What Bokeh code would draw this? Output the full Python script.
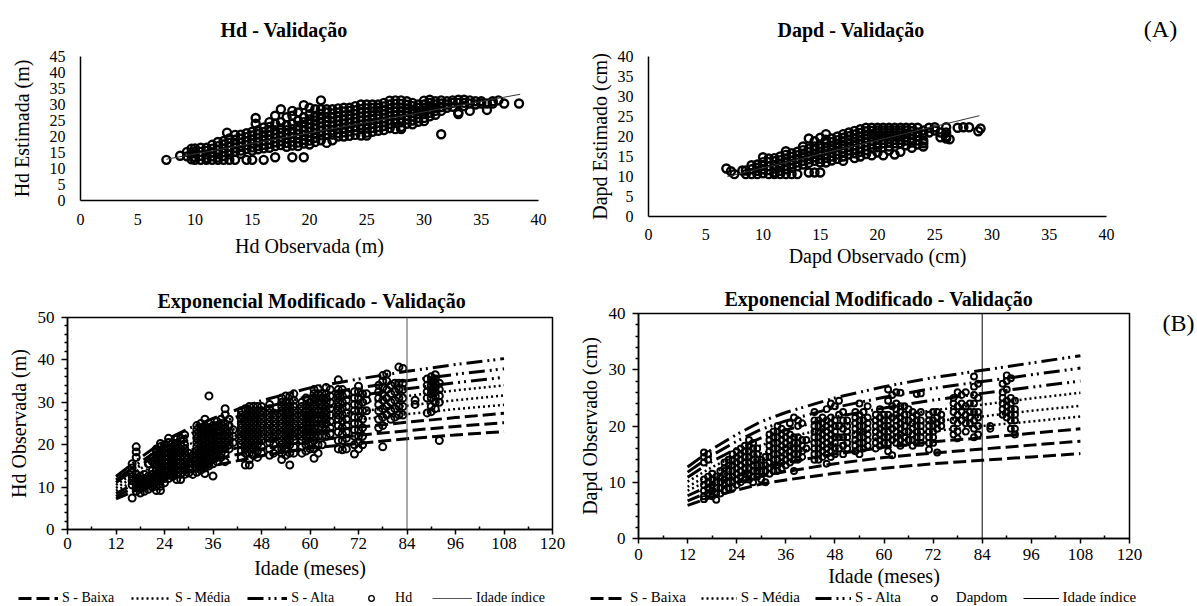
from bokeh.plotting import figure
from bokeh.layouts import column, row
from bokeh.models import Range1d, FixedTicker, Legend, LegendItem, Label
from bokeh.embed import file_html
from bokeh.resources import INLINE

FONT = "Liberation Serif"

# ---------------- (A) Hd validation: observed vs estimated ----------------
hd_obs_cols = [7.5, 8.7, 9.3, 9.7, 10.0, 10.5, 11.0, 11.5, 12.0, 12.5, 12.8, 13.0, 13.5, 14.0, 14.5,
               15.0, 15.3, 15.5, 16.0, 16.5, 17.0, 17.5, 18.0, 18.5, 19.0, 19.5, 20.0, 20.5, 21.0,
               21.5, 22.0, 22.5, 23.0, 23.5, 24.0, 24.5, 25.0, 25.5, 26.0, 26.5, 27.0, 27.5, 28.0,
               28.5, 29.0, 29.5, 30.0, 30.5, 31.0, 31.5, 32.0, 32.5, 33.0, 33.5, 34.0, 34.5, 35.0,
               35.5, 36.0, 36.5, 37.0, 38.3]
hd_est_vals = [
    [12.7], [14.0], [15.2, 13.8], [16.2, 14.7, 12.9], [16.3, 15.3, 13.6, 12.7],
    [16.5, 15.2, 14.0, 12.7], [16.5, 15.5, 14.4, 13.3, 12.7], [17.4, 16.2, 15.0, 13.8, 12.7],
    [18.3, 17.0, 15.8, 14.6, 13.4, 12.7], [18.6, 17.5, 16.3, 15.1, 13.9, 12.7], [21.2],
    [19.4, 18.0, 16.8, 15.6, 14.4, 12.7], [20.5, 19.0, 17.6, 16.4, 15.2, 12.7],
    [20.6, 19.3, 18.0, 16.8, 15.6, 14.6], [21.0, 19.8, 18.5, 17.3, 16.1, 12.7],
    [21.5, 20.3, 19.0, 17.8, 16.6, 15.6, 12.7], [25.8, 24.0],
    [22.0, 20.8, 19.5, 18.2, 17.0, 16.0], [22.8, 21.4, 20.0, 18.7, 17.4, 16.3, 12.7],
    [24.5, 23.0, 21.6, 20.3, 19.0, 17.7, 16.5], [26.5, 24.0, 22.0, 20.8, 19.5, 18.2, 17.0, 13.5],
    [28.5, 24.5, 22.5, 21.2, 19.9, 18.6, 17.3], [26.0, 23.5, 22.0, 20.7, 19.4, 18.0, 16.8],
    [28.0, 26.5, 24.0, 22.3, 21.0, 19.7, 18.4, 17.2, 13.5],
    [27.5, 25.0, 23.3, 22.0, 20.7, 19.4, 18.1, 17.0],
    [29.8, 26.0, 24.5, 23.0, 21.7, 20.4, 19.0, 17.8, 13.5],
    [29.0, 27.0, 25.3, 24.0, 22.7, 21.4, 20.0, 18.7, 17.5],
    [28.5, 26.5, 25.0, 23.6, 22.3, 21.0, 19.6, 18.3],
    [31.3, 28.5, 27.0, 25.6, 24.3, 23.0, 21.7, 20.4, 18.8],
    [28.5, 27.5, 26.0, 24.7, 23.4, 22.0, 20.7, 18.0],
    [28.5, 27.2, 25.9, 24.5, 23.2, 21.9, 20.6, 18.8],
    [28.8, 27.5, 26.2, 24.9, 23.6, 22.3, 21.0, 20.0],
    [29.0, 27.8, 26.5, 25.2, 23.9, 22.6, 21.3, 20.0],
    [29.0, 28.0, 26.8, 25.5, 24.2, 22.9, 21.6, 20.2],
    [29.5, 28.2, 27.0, 25.8, 24.5, 23.2, 21.9, 20.5],
    [30.0, 28.6, 27.4, 26.2, 24.9, 23.6, 22.3, 20.3],
    [30.0, 28.8, 27.6, 26.4, 25.1, 23.8, 22.5, 21.2, 20.3],
    [30.0, 28.9, 27.8, 26.6, 25.3, 24.0, 22.7, 21.5],
    [30.0, 29.0, 28.0, 26.8, 25.6, 24.3, 23.0, 21.8],
    [30.5, 29.4, 28.2, 27.0, 25.8, 24.6, 23.3, 22.0],
    [31.2, 30.0, 28.8, 27.6, 26.4, 25.2, 24.0, 22.6],
    [31.3, 30.2, 29.0, 27.8, 26.6, 25.4, 24.2, 22.3],
    [31.3, 30.2, 29.0, 27.9, 26.8, 25.6, 24.4, 23.0, 22.3],
    [31.0, 29.9, 28.8, 27.7, 26.5, 25.3, 24.0],
    [30.5, 29.5, 28.4, 27.3, 26.2, 25.0, 23.8],
    [30.0, 29.0, 28.0, 27.0, 25.8, 24.6],
    [31.2, 30.0, 29.0, 28.0, 27.0, 25.8, 24.8],
    [31.5, 30.5, 29.5, 28.5, 27.4, 26.3],
    [31.0, 30.0, 29.0, 28.0, 26.8],
    [31.3, 30.3, 29.2, 28.0, 20.7],
    [31.0, 30.0, 29.0], [31.3, 30.5, 29.3], [31.5, 30.5, 27.5, 27.0], [31.5, 30.5, 29.5],
    [31.3, 30.3, 28.0], [31.0, 30.0], [31.0, 30.3], [28.3, 30.3], [30.3, 31.0], [31.3],
    [30.3], [30.3]]
hd_fit_x = [7.5, 38.4]
hd_fit_y = [12.9, 33.2]

# ---------------- (A) Dapd validation ----------------
dap_obs_cols = [6.8, 7.2, 7.5, 8.2, 8.5, 9.0, 9.5, 10.0, 10.5, 11.0, 11.5, 12.0, 12.5, 13.0, 13.5,
                14.0, 14.5, 15.0, 15.5, 16.0, 16.5, 17.0, 17.5, 18.0, 18.5, 19.0, 19.5, 20.0, 20.5,
                21.0, 21.5, 22.0, 22.5, 23.0, 23.5, 24.0, 24.5, 25.0, 25.5, 26.0, 26.3, 27.0, 27.5,
                28.0, 28.8, 29.0]
dap_est_vals = [
    [12.0], [11.3], [10.6], [11.5], [11.5, 10.6], [12.8, 11.8, 10.6], [13.0, 12.2, 11.4, 10.6],
    [14.8, 13.6, 12.7, 11.8, 10.8], [14.5, 13.6, 12.6, 11.6, 10.6],
    [14.6, 13.8, 12.9, 12.0, 11.0, 10.6], [15.0, 14.1, 13.2, 12.3, 11.4, 10.6],
    [16.3, 15.4, 14.5, 13.6, 12.7, 11.8, 10.6], [15.8, 14.9, 14.0, 13.1, 12.2, 10.6],
    [16.2, 15.3, 14.4, 13.5, 12.6, 10.6], [17.5, 16.6, 15.7, 14.8, 13.9, 13.0],
    [19.5, 17.0, 16.1, 15.2, 14.3, 13.4, 11.0], [18.8, 17.5, 16.6, 15.7, 14.8, 13.9, 11.0],
    [19.7, 18.0, 17.1, 16.2, 15.3, 14.4, 13.5, 11.0],
    [20.6, 19.2, 18.3, 17.4, 16.5, 15.6, 14.7, 13.5],
    [19.5, 18.6, 17.7, 16.8, 15.9, 15.0, 14.0], [20.0, 19.1, 18.2, 17.3, 16.4, 15.5, 14.4],
    [20.6, 19.7, 18.8, 17.9, 17.0, 16.1, 15.0, 13.9], [21.0, 20.1, 19.2, 18.3, 17.4, 16.5, 15.5],
    [21.4, 20.5, 19.6, 18.7, 17.8, 16.9, 15.8, 14.6],
    [21.8, 20.9, 20.0, 19.1, 18.2, 17.2, 16.2, 15.0],
    [22.2, 21.3, 20.4, 19.5, 18.6, 17.6, 16.6, 15.6],
    [22.2, 21.4, 20.6, 19.8, 18.9, 18.0, 17.0, 15.3],
    [22.2, 21.5, 20.8, 20.0, 19.2, 18.3, 17.3, 16.0],
    [22.2, 21.5, 20.8, 20.0, 19.2, 18.3, 15.3],
    [22.2, 21.5, 20.8, 20.1, 19.3, 18.5, 17.5, 16.5],
    [22.2, 21.5, 20.8, 20.0, 19.2, 18.3, 15.5],
    [22.2, 21.5, 20.8, 20.0, 19.2, 18.3, 16.2],
    [22.2, 21.5, 20.7, 19.9, 19.0, 17.8], [22.2, 21.3, 20.5, 19.5, 18.5, 17.2],
    [22.2, 21.0, 20.0, 19.0, 18.0], [21.5, 20.5, 19.0, 18.3, 17.5], [22.2, 21.0], [22.3, 21.5],
    [19.8, 21.0], [22.3, 20.0, 19.5, 21.0], [19.3], [22.2], [22.3], [22.3], [21.3], [22.0]]
dap_fit_x = [6.9, 28.9]
dap_fit_y = [10.0, 25.2]

# ---------------- (B) Hd observed by age ----------------
hd_age_cols = [16, 17, 18, 19, 20, 21, 22, 23, 24, 25, 26, 27, 28, 29, 30, 31, 32, 33, 34, 35, 36,
               37, 38, 39, 40, 41, 43, 44, 45, 46, 47, 48, 50, 51, 53, 54, 55, 56, 58, 59, 60, 61,
               62, 63, 64, 65, 67, 68, 69, 71, 72, 73, 74, 77, 78, 79, 80, 81, 82, 83, 86, 89, 90,
               91, 92]
hd_age_vals = [
    [7.4, 10.5, 11.5, 12.5, 13.5, 14.5, 15.5], [9.0, 10.0, 11.0, 12.0, 13.0, 17.0, 18.3, 19.5],
    [8.6, 9.6, 10.6, 11.6, 12.6], [9.0, 10.0, 11.0, 12.0, 13.0], [9.5, 10.5, 11.5, 12.5, 15.5],
    [10.0, 11.0, 12.0, 13.0, 14.0, 16.0, 17.0],
    [9.2, 10.2, 11.2, 12.2, 13.2, 14.2, 15.2, 16.2, 17.2, 18.2, 19.0],
    [9.2, 10.2, 11.5, 12.5, 13.5, 14.5, 15.5, 16.5, 17.5, 18.5, 19.5, 20.3],
    [11.0, 12.0, 13.0, 14.0, 15.0, 16.0, 17.0, 18.0, 19.0, 20.0],
    [12.0, 13.0, 14.0, 15.0, 16.0, 17.0, 18.0, 19.0, 20.5, 21.5],
    [12.5, 13.5, 14.5, 15.5, 16.5, 17.5, 18.5, 19.5, 20.5],
    [11.8, 13.0, 14.0, 15.0, 16.0, 17.0, 18.0, 19.0, 20.0, 21.3],
    [11.8, 13.0, 14.0, 15.0, 16.0, 17.0, 18.0, 19.0, 20.0, 21.5],
    [13.0, 14.0, 15.0, 16.0, 17.0, 18.0, 19.0, 20.0, 22.3],
    [13.3, 14.5, 16.0, 17.0, 18.0], [13.0, 14.5, 15.5, 16.5, 17.5],
    [13.5, 14.5, 15.5, 16.5, 17.5, 18.5, 19.5, 20.5, 21.5, 22.5, 23.5, 24.5],
    [14.0, 15.0, 16.0, 17.0, 18.0, 19.0, 20.0, 21.0, 22.0, 23.0, 24.0, 25.0],
    [13.2, 14.5, 15.5, 16.5, 17.5, 18.5, 19.5, 20.5, 21.5, 22.5, 23.5, 24.5, 26.0],
    [15.0, 16.0, 17.0, 18.0, 19.0, 20.0, 21.0, 22.0, 23.0, 24.0, 25.0, 31.5],
    [12.6, 15.5, 16.5, 17.5, 18.5, 19.5, 20.5, 21.5, 22.5, 23.5, 24.5],
    [16.0, 17.0, 18.0, 19.0, 20.0, 21.0, 22.0, 23.0, 24.5, 25.5],
    [17.0, 18.0, 19.0, 20.0, 21.0, 22.0, 23.0, 24.0, 25.0, 26.0],
    [16.0, 18.0, 19.0, 20.0, 21.0, 22.0, 23.0, 24.0, 25.0, 27.0, 28.5],
    [19.0, 20.0, 21.0, 22.0, 23.0, 24.5, 26.0], [20.5, 22.0, 23.5],
    [17.0, 18.5, 20.0, 21.0, 22.0, 23.0, 24.0, 25.0, 26.0, 27.0, 28.0],
    [15.2, 18.0, 19.0, 20.0, 21.0, 22.0, 23.0, 24.0, 25.0, 26.0, 27.0, 28.5],
    [15.2, 16.5, 18.0, 19.0, 20.0, 21.0, 22.0, 23.0, 24.0, 25.0, 26.0, 27.0, 28.0, 29.0],
    [17.5, 19.0, 20.0, 21.0, 22.0, 23.0, 24.0, 25.0, 26.0, 27.0, 28.0, 29.0],
    [17.0, 18.5, 20.0, 21.0, 22.0, 23.0, 24.0, 25.0, 26.0, 27.0, 28.0, 29.0],
    [18.0, 19.5, 21.0, 22.0, 23.0, 24.0, 25.0, 26.0, 27.0, 28.0, 29.0],
    [17.5, 19.0, 20.5, 21.5, 22.5, 23.5, 24.5, 25.5, 26.5, 27.5, 28.5, 29.5],
    [18.0, 20.0, 21.5, 22.5, 23.5, 24.5, 25.5, 26.5, 27.5],
    [16.5, 18.0, 19.0, 20.0, 21.0, 22.0, 23.0, 24.0, 25.0, 26.0, 27.0, 28.0, 29.0, 30.0, 31.0],
    [17.5, 19.0, 20.0, 21.0, 22.0, 23.0, 24.0, 25.0, 26.0, 27.0, 28.0, 29.0, 30.0, 31.5],
    [15.2, 18.0, 20.0, 21.0, 22.0, 23.0, 24.0, 25.0, 26.0, 27.0, 28.0, 29.0, 30.0, 31.5],
    [18.0, 19.5, 21.0, 22.0, 23.0, 24.0, 25.0, 26.0, 27.0, 28.0, 29.0, 30.5, 32.0],
    [18.0, 19.5, 21.0, 22.0, 23.0, 24.0, 25.0, 26.0, 27.0, 28.0, 29.0, 30.0],
    [18.5, 20.0, 21.0, 22.0, 23.0, 24.0, 25.0, 26.0, 27.0, 28.0, 29.5, 31.0],
    [19.0, 20.5, 22.0, 23.0, 24.0, 25.0, 26.0, 27.0, 28.0, 29.0, 30.0],
    [16.8, 19.0, 21.0, 22.0, 23.0, 24.0, 25.0, 26.0, 27.0, 28.0, 29.0, 30.0, 31.0, 32.0, 33.0],
    [18.0, 20.0, 22.0, 24.0, 26.0, 28.0, 30.0, 32.0, 33.2],
    [20.0, 22.0, 24.0, 25.0, 26.0, 27.0, 28.0, 29.0, 30.0, 31.0, 32.0],
    [22.0, 23.5, 25.0, 26.0, 27.0, 28.0, 29.0, 30.0, 31.0, 32.0, 33.5],
    [22.5, 24.0, 25.5, 27.0, 28.5, 30.0, 31.5, 33.0],
    [19.0, 21.0, 23.0, 24.5, 26.0, 27.0, 28.0, 29.0, 30.0, 31.0, 32.0, 33.0, 35.3],
    [18.8, 21.0, 22.5, 24.0, 25.5, 27.0, 28.5, 30.0, 31.5, 33.0],
    [19.0, 21.5, 23.0, 24.5, 26.0, 27.5, 29.0, 30.5, 32.0],
    [17.8, 20.0, 22.0, 23.5, 25.0, 26.5, 28.0, 29.5, 31.0, 32.5],
    [19.0, 20.5, 22.0, 23.5, 25.0, 26.5, 28.0, 29.5, 31.0, 32.5, 33.8],
    [20.0, 22.0, 24.0, 26.0, 28.0, 30.0, 32.0], [28.0, 30.5, 32.0],
    [24.0, 26.0, 28.0, 29.5, 31.0, 32.5, 34.0],
    [19.5, 24.5, 26.5, 28.5, 30.5, 32.0, 33.5, 35.0, 36.3],
    [27.0, 29.0, 31.0, 33.0, 35.0, 36.7], [26.0, 28.0, 30.0, 32.0, 34.0],
    [26.5, 28.5, 30.5, 32.5, 34.5], [27.0, 29.0, 31.0, 33.0, 34.5, 38.3],
    [27.0, 29.0, 31.0, 33.0, 34.5, 38.0], [29.5, 30.5], [27.5, 31.0, 32.5, 34.0, 35.5],
    [27.8, 29.0, 31.0, 32.0, 33.0, 34.0, 35.0, 36.0],
    [28.5, 30.0, 31.5, 32.5, 33.5, 34.5, 35.5, 36.5], [21.0, 30.0, 31.5, 33.0, 34.5]]

# ---------------- (B) Dapdom observed by age ----------------
dap_age_cols = [16, 17, 18, 19, 20, 21, 22, 23, 24, 25, 26, 27, 28, 29, 30, 31, 32, 33, 34, 35, 36,
                37, 38, 39, 40, 41, 43, 44, 45, 46, 47, 48, 49, 50, 51, 53, 54, 55, 56, 58, 59, 60,
                61, 62, 63, 64, 65, 66, 67, 68, 69, 71, 72, 73, 74, 77, 78, 79, 80, 81, 82, 83, 86,
                89, 90, 91, 92]
dap_age_vals = [
    [7.0, 7.5, 8.5, 9.5, 10.5, 13.5, 14.5, 15.3], [8.0, 9.0, 10.0, 11.0, 14.0, 15.0],
    [7.5, 8.5, 9.5, 10.5, 11.5], [6.9, 8.0, 9.0, 10.0, 11.0], [8.0, 9.0, 10.0, 11.0, 12.0],
    [8.5, 9.5, 10.5, 11.5, 12.5, 13.5], [9.0, 10.0, 11.0, 12.0, 13.0, 14.0],
    [9.0, 10.0, 11.0, 12.0, 13.0, 14.0, 15.0], [9.5, 10.5, 11.5, 12.5, 13.5, 14.5, 15.5],
    [10.0, 11.0, 12.0, 13.0, 14.0, 15.0, 16.0], [10.5, 11.5, 12.5, 13.5, 14.5, 15.5, 16.5],
    [10.5, 11.5, 12.5, 13.5, 14.5, 15.5, 16.5, 17.5],
    [10.0, 11.0, 12.0, 13.0, 14.0, 15.0, 16.0, 17.0], [11.0, 12.0, 13.0, 14.0, 15.0, 16.0],
    [10.5, 12.0, 13.0, 14.0], [10.0, 12.0, 13.0, 14.5],
    [11.5, 12.5, 13.5, 14.5, 15.5, 16.5, 17.5, 18.5],
    [12.0, 13.0, 14.0, 15.0, 16.0, 17.0, 18.0, 19.0],
    [12.0, 13.0, 14.0, 15.0, 16.0, 17.0, 18.0, 19.0, 20.0],
    [12.5, 13.5, 14.5, 15.5, 16.5, 17.5, 18.5, 19.5],
    [13.0, 14.0, 15.0, 16.0, 17.0, 18.0, 19.0], [13.5, 14.5, 15.5, 16.5, 17.5, 18.5, 20.5],
    [12.0, 14.0, 15.0, 16.0, 17.0, 18.0, 21.5], [14.0, 15.0, 16.0, 17.0, 18.0, 20.0, 21.0],
    [14.5, 15.5, 16.5, 17.5, 20.5], [16.0, 17.5],
    [14.0, 15.0, 16.0, 17.0, 18.0, 19.0, 20.0, 21.0, 22.5],
    [14.0, 15.0, 16.0, 17.0, 18.0, 19.0, 20.0, 21.0],
    [14.5, 15.5, 16.5, 17.5, 18.5, 19.5, 20.5, 21.5],
    [13.3, 15.0, 16.0, 17.0, 18.0, 19.0, 20.0, 21.0, 23.0],
    [14.5, 15.5, 16.5, 17.5, 18.5, 19.5, 20.5, 21.5, 24.0],
    [15.0, 16.0, 17.0, 18.0, 19.0, 20.0, 21.0, 23.5], [16.0, 18.0, 20.0, 22.0, 24.5],
    [15.0, 16.5, 18.0, 19.5, 21.0, 22.5], [16.0, 17.0, 18.0, 19.0, 20.0, 21.0],
    [15.5, 16.5, 17.5, 18.5, 19.5, 20.5, 21.5, 22.5],
    [15.0, 16.0, 17.0, 18.0, 19.0, 20.0, 21.0, 22.0, 24.0],
    [16.0, 17.0, 18.0, 19.0, 20.0, 21.0, 22.5], [16.5, 17.5, 18.5, 19.5, 20.5, 21.5, 23.5],
    [16.0, 17.0, 18.0, 19.0, 20.0, 21.0, 22.0], [16.5, 17.5, 18.5, 19.5, 20.5, 21.5, 23.0],
    [17.0, 18.0, 19.0, 20.0, 21.0, 22.0],
    [15.5, 17.0, 18.0, 19.0, 20.0, 21.0, 22.0, 24.5, 26.5],
    [14.8, 17.5, 19.5, 21.5, 23.5, 25.5],
    [17.0, 18.0, 19.0, 20.0, 21.0, 22.0, 23.0, 24.0, 26.0],
    [16.5, 17.5, 18.5, 19.5, 20.5, 21.5, 22.5, 23.5, 25.9],
    [17.0, 18.0, 19.0, 20.0, 21.0, 22.0, 23.5], [17.5, 19.0, 21.0, 23.0],
    [16.5, 17.5, 18.5, 19.5, 20.5, 21.5, 22.5], [17.0, 18.0, 19.0, 20.0, 21.0, 22.0, 25.7],
    [17.0, 18.0, 19.0, 20.0, 21.0, 22.5, 25.8], [15.8, 17.0, 18.0, 19.0, 20.0, 21.0, 22.0],
    [17.0, 18.0, 19.0, 20.0, 21.0, 22.5], [15.3, 19.5, 20.5, 21.5, 22.5], [20.0, 21.0, 22.0],
    [18.5, 19.5, 21.0, 22.5, 24.0, 25.0], [17.8, 19.0, 20.5, 22.0, 23.5, 26.0],
    [21.0, 22.5, 24.0, 25.5], [19.0, 20.5, 22.0, 23.5, 26.0], [20.5, 21.5, 22.5, 24.0],
    [18.0, 19.5, 21.0, 22.5, 24.0, 25.5, 27.0, 28.8], [18.5, 20.0, 21.5, 22.5, 25.0, 27.5],
    [19.5, 20.0], [22.0, 23.0, 24.0, 25.0, 26.0, 27.5],
    [21.5, 22.5, 23.5, 24.5, 26.5, 28.0, 29.0], [19.5, 21.0, 22.0, 23.0, 24.0, 25.0, 28.5],
    [18.5, 19.5, 21.0, 22.0, 23.0, 24.5]]

# ---------------- site curves (Exponencial Modificado) ----------------
site_ages = [12, 18, 24, 30, 36, 48, 60, 72, 84, 96, 108]
hd_baixa = [[7.2, 9.7, 12.0, 13.6, 15.0, 17.4, 19.2, 20.3, 21.4, 22.3, 23.1],
            [7.8, 10.6, 13.1, 14.9, 16.4, 19.0, 20.9, 22.2, 23.3, 24.3, 25.2],
            [8.5, 11.5, 14.2, 16.2, 17.8, 20.7, 22.7, 24.1, 25.3, 26.4, 27.4]]
hd_media = [[9.1, 12.3, 15.3, 17.3, 19.1, 22.2, 24.4, 25.9, 27.2, 28.4, 29.4],
            [9.8, 13.3, 16.4, 18.6, 20.5, 23.9, 26.2, 27.8, 29.2, 30.5, 31.6],
            [10.5, 14.3, 17.7, 20.1, 22.1, 25.7, 28.2, 29.9, 31.5, 32.8, 34.0]]
hd_alta = [[11.1, 15.1, 18.7, 21.2, 23.3, 27.1, 29.8, 31.6, 33.2, 34.6, 35.9],
           [11.7, 15.9, 19.7, 22.4, 24.6, 28.6, 31.5, 33.4, 35.1, 36.6, 37.9],
           [12.5, 16.9, 21.0, 23.8, 26.2, 30.4, 33.4, 35.5, 37.3, 38.9, 40.3]]
dap_baixa = [[5.9, 7.4, 8.6, 9.7, 10.4, 11.6, 12.5, 13.3, 13.9, 14.5, 15.1],
             [6.7, 8.5, 9.9, 11.1, 11.9, 13.3, 14.4, 15.2, 15.9, 16.6, 17.3],
             [7.6, 9.6, 11.1, 12.5, 13.5, 15.0, 16.2, 17.2, 17.9, 18.7, 19.5]]
dap_media = [[8.5, 10.6, 12.4, 13.9, 15.0, 16.7, 18.0, 19.1, 20.0, 20.8, 21.7],
             [9.2, 11.6, 13.5, 15.1, 16.3, 18.2, 19.6, 20.8, 21.7, 22.7, 23.6],
             [10.1, 12.7, 14.8, 16.6, 17.9, 19.9, 21.5, 22.8, 23.8, 24.9, 25.9]]
dap_alta = [[10.9, 13.7, 16.0, 17.9, 19.3, 21.6, 23.2, 24.6, 25.8, 26.9, 28.0],
            [11.8, 14.8, 17.3, 19.4, 20.9, 23.3, 25.1, 26.7, 27.9, 29.1, 30.3],
            [12.7, 15.9, 18.5, 20.8, 22.4, 25.0, 27.0, 28.6, 29.9, 31.2, 32.5]]
index_age = 84

age_ticks = [0, 12, 24, 36, 48, 60, 72, 84, 96, 108, 120]
age_minor = [6, 18, 30, 42, 54, 66, 78, 90, 102, 114]
legend_names_hd = ["S - Baixa", "S - Média", "S - Alta", "Hd", "Idade índice"]
legend_names_dap = ["S - Baixa", "S - Média", "S - Alta", "Dapdom", "Idade índice"]

DASH_BAIXA = "13 5"
DASH_MEDIA = "2 3"
DASH_ALTA = "16 5 2 4 2 5"


def flatten(cols, vals):
    xs, ys = [], []
    for c, vs in zip(cols, vals):
        for v in vs:
            xs.append(c)
            ys.append(v)
    return xs, ys


def style_axes(p, tick_size, label_size):
    for ax in (p.xaxis[0], p.yaxis[0]):
        ax.axis_line_color = "black"
        ax.axis_line_width = 1.5
        ax.major_label_text_font = FONT
        ax.major_label_text_font_size = tick_size
        ax.major_label_text_color = "black"
        ax.axis_label_text_font = FONT
        ax.axis_label_text_font_size = label_size
        ax.axis_label_text_font_style = "normal"
        ax.axis_label_text_color = "black"
        ax.major_tick_line_color = "black"
        ax.minor_tick_line_color = "black"
    p.grid.visible = False


def style_title(p, text, offset, standoff):
    p.title.text = text
    p.title.text_font = FONT
    p.title.text_font_size = "20px"
    p.title.text_font_style = "bold"
    p.title.text_color = "black"
    p.title.align = "left"
    p.title.offset = offset
    p.title.standoff = standoff


def blank_fig(width, height, x_range, y_range):
    f = figure(width=width, height=height, x_range=x_range, y_range=y_range,
               output_backend="svg", toolbar_location=None, x_axis_location=None,
               y_axis_location=None, min_border_left=0, min_border_right=0,
               min_border_top=0, min_border_bottom=0)
    f.outline_line_color = None
    f.grid.visible = False
    return f


def tag_fig(width, height, text, x, y):
    f = blank_fig(width, height, Range1d(0, width), Range1d(0, height))
    f.add_layout(Label(x=x, y=y, text=text, text_font=FONT, text_font_size="24px",
                       text_color="black", text_align="center", text_baseline="middle"))
    return f


def legend_fig(width, height, names, ages, vals, baixa, media, alta, ymax, point_size,
               point_lw, index_color, loc, font_size, glyph_w, spacing):
    # legend strip: the same series are drawn, but the strip's y range lies above the data,
    # so only the legend keys show
    f = blank_fig(width, height, Range1d(0, 120), Range1d(ymax + 100, ymax + 101))
    xs, ys = flatten(ages, vals)
    rb = f.line(site_ages, baixa[0], line_color="black", line_width=3, line_dash=DASH_BAIXA)
    rm = f.line(site_ages, media[0], line_color="black", line_width=2.5, line_dash=DASH_MEDIA)
    ra = f.line(site_ages, alta[0], line_color="black", line_width=3, line_dash=DASH_ALTA)
    rp = f.scatter(xs, ys, marker="circle", size=point_size, fill_color=None,
                   line_color="black", line_width=point_lw)
    ri = f.line([index_age, index_age], [0, ymax], line_color=index_color, line_width=1)
    items = [LegendItem(label=n, renderers=[r]) for n, r in zip(names, [rb, rm, ra, rp, ri])]
    leg = Legend(items=items, orientation="horizontal", location=loc,
                 label_text_font=FONT, label_text_font_size=font_size,
                 label_text_color="black", glyph_width=glyph_w, glyph_height=14,
                 label_height=14, label_standoff=4, spacing=spacing,
                 padding=0, margin=0, border_line_alpha=0, background_fill_alpha=0)
    f.add_layout(leg, "center")
    return f


# ---------------- panel 1: Hd validation ----------------
p1 = figure(width=580, height=282, x_range=Range1d(0, 40), y_range=Range1d(0, 45),
            output_backend="svg", toolbar_location=None,
            min_border_left=80, min_border_right=42, min_border_top=56, min_border_bottom=82)
p1.outline_line_color = None
style_axes(p1, "16px", "20px")
style_title(p1, "Hd - Validação", 140, 32)
p1.xaxis.ticker = FixedTicker(ticks=[0, 5, 10, 15, 20, 25, 30, 35, 40])
p1.yaxis.ticker = FixedTicker(ticks=[0, 5, 10, 15, 20, 25, 30, 35, 40, 45])
for ax in (p1.xaxis[0], p1.yaxis[0]):
    ax.major_tick_out = 0
    ax.major_tick_in = 0
    ax.minor_tick_out = 0
    ax.minor_tick_in = 0
p1.xaxis.major_label_standoff = 13
p1.yaxis.major_label_standoff = 15
p1.xaxis.axis_label_standoff = 7
p1.yaxis.axis_label_standoff = 14
p1.xaxis.axis_label = "Hd Observada (m)"
p1.yaxis.axis_label = "Hd Estimada (m)"
x1, y1 = flatten(hd_obs_cols, hd_est_vals)
p1.scatter(x1, y1, marker="circle", size=8, fill_color=None, line_color="black", line_width=2.4)
p1.line(hd_fit_x, hd_fit_y, line_color="#333333", line_width=1)

# ---------------- panel 2: Dapd validation ----------------
p2 = figure(width=563, height=282, x_range=Range1d(0, 40), y_range=Range1d(0, 40),
            output_backend="svg", toolbar_location=None,
            min_border_left=68, min_border_right=37, min_border_top=56, min_border_bottom=66)
p2.outline_line_color = None
style_axes(p2, "16px", "20px")
style_title(p2, "Dapd - Validação", 129, 32)
p2.xaxis.ticker = FixedTicker(ticks=[0, 5, 10, 15, 20, 25, 30, 35, 40])
p2.yaxis.ticker = FixedTicker(ticks=[0, 5, 10, 15, 20, 25, 30, 35, 40])
for ax in (p2.xaxis[0], p2.yaxis[0]):
    ax.major_tick_out = 0
    ax.major_tick_in = 0
    ax.minor_tick_out = 0
    ax.minor_tick_in = 0
p2.xaxis.major_label_standoff = 12
p2.yaxis.major_label_standoff = 15
p2.xaxis.axis_label_standoff = 2
p2.yaxis.axis_label_standoff = 4
p2.xaxis.axis_label = "Dapd Observado (cm)"
p2.yaxis.axis_label = "Dapd Estimado (cm)"
x2, y2 = flatten(dap_obs_cols, dap_est_vals)
p2.scatter(x2, y2, marker="circle", size=8, fill_color=None, line_color="black", line_width=2.4)
p2.line(dap_fit_x, dap_fit_y, line_color="#333333", line_width=1)

tagA = tag_fig(54, 282, "(A)", 17, 254)


def growth_panel(width, height, ymax, yticks, yminor, borders, title_offset, title_standoff,
                 tick_standoff, xlabel_standoff, ylabel, age_cols, age_vals, baixa, media, alta,
                 marker_size, marker_lw, index_color):
    p = figure(width=width, height=height, x_range=Range1d(0, 120), y_range=Range1d(0, ymax),
               output_backend="svg", toolbar_location=None,
               min_border_left=borders[0], min_border_right=borders[1],
               min_border_top=borders[2], min_border_bottom=borders[3])
    p.outline_line_color = "black"
    p.outline_line_width = 1.5
    p.outline_line_alpha = 1
    style_axes(p, "17px", "20px")
    style_title(p, "Exponencial Modificado - Validação", title_offset, title_standoff)
    p.xaxis.ticker = FixedTicker(ticks=age_ticks, minor_ticks=age_minor)
    p.yaxis.ticker = FixedTicker(ticks=yticks, minor_ticks=yminor)
    p.xaxis.major_tick_out = 5
    p.xaxis.major_tick_in = 0
    p.xaxis.minor_tick_out = 0
    p.xaxis.minor_tick_in = 3
    p.yaxis.major_tick_out = 6
    p.yaxis.major_tick_in = 0
    p.yaxis.minor_tick_out = 3
    p.yaxis.minor_tick_in = 0
    p.xaxis.major_tick_line_width = 1.5
    p.yaxis.major_tick_line_width = 1.5
    p.xaxis.minor_tick_line_width = 1.5
    p.yaxis.minor_tick_line_width = 1.5
    p.xaxis.major_label_standoff = tick_standoff
    p.yaxis.major_label_standoff = 7
    p.xaxis.axis_label_standoff = xlabel_standoff
    p.yaxis.axis_label_standoff = 5
    p.xaxis.axis_label = "Idade (meses)"
    p.yaxis.axis_label = ylabel

    xs, ys = flatten(age_cols, age_vals)
    p.scatter(xs, ys, marker="circle", size=marker_size, fill_color=None,
              line_color="black", line_width=marker_lw)
    for curve in baixa:
        p.line(site_ages, curve, line_color="black", line_width=3, line_dash=DASH_BAIXA)
    for curve in media:
        p.line(site_ages, curve, line_color="black", line_width=2.5, line_dash=DASH_MEDIA)
    for curve in alta:
        p.line(site_ages, curve, line_color="black", line_width=3, line_dash=DASH_ALTA)
    p.line([index_age, index_age], [0, ymax], line_color=index_color, line_width=1)
    return p


p3 = growth_panel(575, 307, 50, [0, 10, 20, 30, 40, 50],
                  [2, 4, 6, 8, 12, 14, 16, 18, 22, 24, 26, 28, 32, 34, 36, 38, 42, 44, 46, 48],
                  (67, 23, 35, 60), 90, 11, 3, 5, "Hd Observada (m)", hd_age_cols, hd_age_vals,
                  hd_baixa, hd_media, hd_alta, 7, 2.0, "#555555")
leg3 = legend_fig(575, 17, legend_names_hd, hd_age_cols, hd_age_vals, hd_baixa, hd_media,
                  hd_alta, 50, 6, 1.3, "#555555", (18, 0), "14px", 40, 17)

p4 = growth_panel(582, 308, 40, [0, 10, 20, 30, 40],
                  [2, 4, 6, 8, 12, 14, 16, 18, 22, 24, 26, 28, 32, 34, 36, 38],
                  (58, 28, 31, 52), 86, 7, 5, 2, "Dapd Observado (cm)", dap_age_cols,
                  dap_age_vals, dap_baixa, dap_media, dap_alta, 6, 1.9, "black")
leg4 = legend_fig(582, 16, legend_names_dap, dap_age_cols, dap_age_vals, dap_baixa, dap_media,
                  dap_alta, 40, 5, 1.2, "black", (15, 0), "15px", 36, 15)

tagB = tag_fig(40, 324, "(B)", 21, 284)

top = row(column(p1), column(p2), column(tagA), spacing=0)
bottom = row(column(column(p3), column(leg3), spacing=0),
             column(column(p4), column(leg4), spacing=0),
             column(tagB), spacing=0)
layout = column(top, bottom, spacing=0)
open("out.html", "w").write(file_html(layout, INLINE))
